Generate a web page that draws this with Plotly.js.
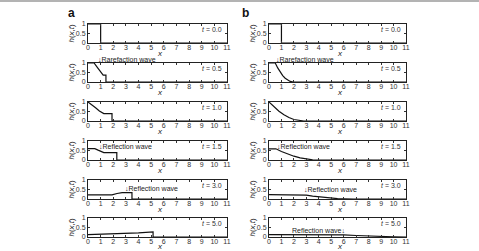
<!DOCTYPE html>
<html><head><meta charset="utf-8">
<script src="https://cdn.plot.ly/plotly-3.0.1.min.js"></script>
<style>html,body{margin:0;padding:0;background:#fff}#c{width:479px;height:251px}</style>
</head><body><div id="c"></div>
<script>
// ---- data ----
const xTicks = [0,1,2,3,4,5,6,7,8,9,10,11];
const yTicks = [0,0.5,1];
const yTickText = ['0','0.5','1'];
const timeLabels = ['0.0','0.5','1.0','1.5','3.0','5.0'];

// panel a
const a_t00_x = [0,1,1,11];                          const a_t00_h = [1,1,0,0];
const a_t05_x = [0,0.48,0.75,1.0,1.2,1.42,1.42,11];  const a_t05_h = [1,1,0.76,0.55,0.36,0.36,0,0];
const a_t10_x = [0,0.3,0.6,0.9,1.25,1.9,1.9,11];     const a_t10_h = [1,0.86,0.7,0.53,0.39,0.39,0,0];
const a_t15_x = [0,0.54,0.8,1.0,1.25,2.28,2.28,11];  const a_t15_h = [0.6,0.6,0.52,0.45,0.39,0.39,0,0];
const a_t30_x = [0,1.9,2.3,2.7,3.48,3.48,11];        const a_t30_h = [0.22,0.22,0.29,0.34,0.34,0,0];
const a_t50_x = [0,1,2,3,4,5.15,5.15,11];            const a_t50_h = [0.12,0.14,0.16,0.19,0.22,0.27,0,0];

// panel b
const b_t00_x = [0,1,1,11];                                   const b_t00_h = [1,1,0,0];
const b_t05_x = [0,0.5,0.7,0.9,1.1,1.3,1.5,1.7,1.95,11];      const b_t05_h = [1,1,0.74,0.52,0.34,0.2,0.1,0.03,0,0];
const b_t10_x = [0,0.4,0.8,1.2,1.6,2.0,2.4,2.8,11];           const b_t10_h = [1,0.73,0.51,0.33,0.18,0.08,0.02,0,0];
const b_t15_x = [0,0.55,1.0,1.5,2.0,2.5,3.0,3.5,3.9,11];      const b_t15_h = [0.59,0.59,0.45,0.32,0.2,0.11,0.05,0.01,0,0];
const b_t30_x = [0,2.6,3.0,3.5,4.0,4.5,5.0,5.5,6.0,6.8,11];   const b_t30_h = [0.23,0.23,0.2,0.15,0.11,0.07,0.04,0.02,0.01,0,0];
const b_t50_x = [0,5,6,7,8,9,10,11];                          const b_t50_h = [0.13,0.13,0.11,0.08,0.05,0.03,0.01,0];

const seriesA = [[a_t00_x,a_t00_h],[a_t05_x,a_t05_h],[a_t10_x,a_t10_h],[a_t15_x,a_t15_h],[a_t30_x,a_t30_h],[a_t50_x,a_t50_h]];
const seriesB = [[b_t00_x,b_t00_h],[b_t05_x,b_t05_h],[b_t10_x,b_t10_h],[b_t15_x,b_t15_h],[b_t30_x,b_t30_h],[b_t50_x,b_t50_h]];

// ---- layout geometry (pixels) ----
const W = 479, H = 251;
const colPx = [[88,227],[269,406]];
const rowTop = [24,63,102,141,180,218];
const rowH = 19;
const px = p => p / W;
const py = p => 1 - p / H;
const FONT = 'Liberation Sans, Arial, sans-serif';

const data = [];
const layout = {
  width: W, height: H,
  margin: {l:0,r:0,t:0,b:0},
  paper_bgcolor: '#fff', plot_bgcolor: '#fff',
  showlegend: false,
  font: {family: FONT, size: 7, color: '#222'},
  annotations: [],
  shapes: [{type:'line', xref:'paper', yref:'paper', x0:0, x1:1, y0:py(1), y1:py(1), line:{color:'#9a9a9a', width:1.5}}]
};

let n = 0;
[seriesA, seriesB].forEach((series, c) => {
  series.forEach((s, r) => {
    n++;
    const xa = 'xaxis' + (n === 1 ? '' : n), ya = 'yaxis' + (n === 1 ? '' : n);
    const xr = 'x' + (n === 1 ? '' : n), yr = 'y' + (n === 1 ? '' : n);
    data.push({x: s[0], y: s[1], xaxis: xr, yaxis: yr, type: 'scatter', mode: 'lines',
               line: {color: '#111', width: 1.2}, hoverinfo: 'skip'});
    const top = rowTop[r], bot = rowTop[r] + rowH;
    layout[xa] = {domain: [px(colPx[c][0]), px(colPx[c][1])], anchor: yr, range: [0, 11],
      tickvals: xTicks, ticks: 'inside', ticklen: 2, tickcolor: '#333', showgrid: false, zeroline: false,
      showline: true, linecolor: '#222', linewidth: 1, mirror: 'ticks', ticklabelstandoff: -2,
      tickfont: {size: 7, color: '#333', family: FONT}, fixedrange: true};
    layout[ya] = {domain: [py(bot), py(top)], anchor: xr, range: [0, 1],
      tickvals: yTicks, ticktext: yTickText, ticks: 'inside', ticklen: 2, tickcolor: '#333',
      showgrid: false, zeroline: false, showline: true, linecolor: '#222', linewidth: 1, mirror: 'ticks',
      tickfont: {size: 7, color: '#333', family: FONT}, fixedrange: true};
    // x title
    layout.annotations.push({xref:'paper', yref:'paper', x: px((colPx[c][0]+colPx[c][1])/2 + 2), y: py(Math.min(bot+10, 246)),
      text:'<i>x</i>', showarrow:false, xanchor:'center', yanchor:'middle', font:{size:8, color:'#222'}});
    // y title
    layout.annotations.push({xref:'paper', yref:'paper', x: px(colPx[c][0]-17), y: py(top+rowH/2),
      text:'<i>h</i>(<i>x</i>,<i>t</i>)', textangle:-90, showarrow:false, xanchor:'center', yanchor:'middle',
      font:{size:8, color:'#222'}});
    // time label
    layout.annotations.push({xref: xr, yref: yr, x: 10.75, y: 0.7, text:'<i>t</i> = ' + timeLabels[r],
      showarrow:false, xanchor:'right', yanchor:'middle', font:{size:7, color:'#333'}});
  });
});

// wave labels (pixel positions)
const waveLabels = [
  ['↓Rarefaction wave', 96, 59],
  ['↓Rarefaction wave', 274, 59],
  ['↓Reflection wave', 97, 146],
  ['↓Reflection wave', 275, 146],
  ['↓Reflection wave', 123, 188],
  ['↓Reflection wave', 302, 189],
  ['Reflection wave↓', 290, 230]
];
waveLabels.forEach(w => layout.annotations.push({xref:'paper', yref:'paper', x: px(w[1]), y: py(w[2]),
  text: w[0], showarrow:false, xanchor:'left', yanchor:'middle', font:{size:7, color:'#222'}}));

// panel letters
layout.annotations.push({xref:'paper', yref:'paper', x: px(71), y: py(13), text:'<b>a</b>', showarrow:false,
  xanchor:'center', yanchor:'middle', font:{size:12, color:'#111'}});
layout.annotations.push({xref:'paper', yref:'paper', x: px(245), y: py(13), text:'<b>b</b>', showarrow:false,
  xanchor:'center', yanchor:'middle', font:{size:12, color:'#111'}});

Plotly.newPlot('c', data, layout, {staticPlot: true, displayModeBar: false});
</script>
</body></html>
